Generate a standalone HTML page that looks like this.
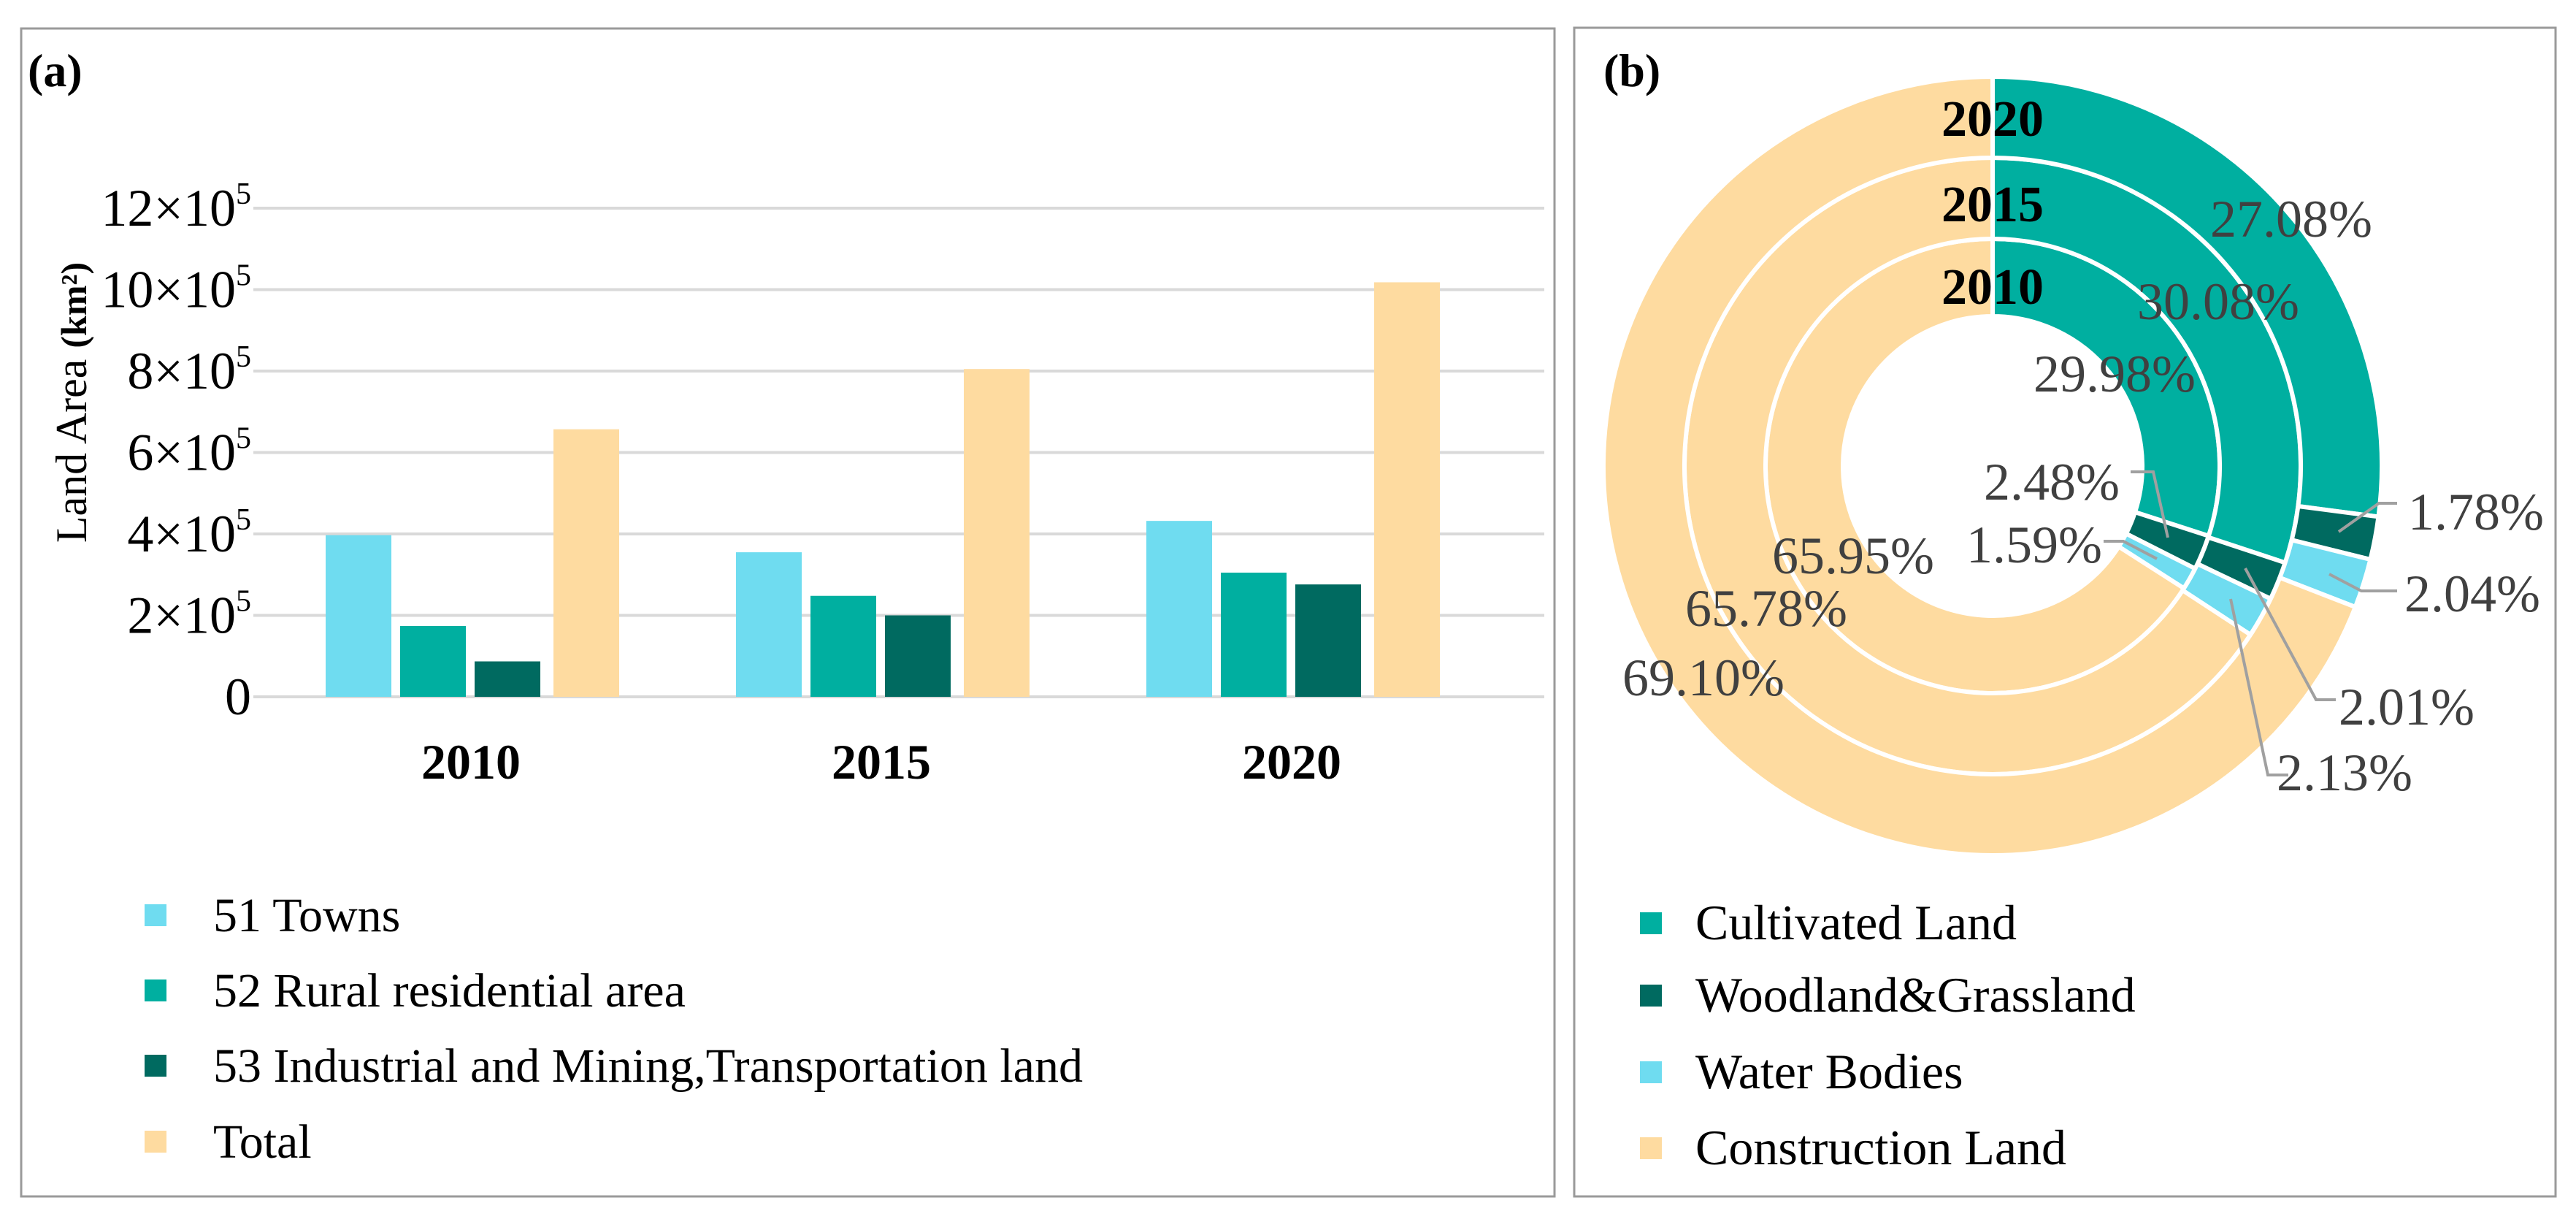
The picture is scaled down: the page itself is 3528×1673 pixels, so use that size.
<!DOCTYPE html>
<html><head><meta charset="utf-8"><style>
html,body{margin:0;padding:0;background:#fff;}
svg{display:block;font-family:"Liberation Serif","DejaVu Serif",serif;}
</style></head><body>
<svg id="c" width="3528" height="1673" viewBox="0 0 3528 1673" xmlns="http://www.w3.org/2000/svg">
<rect x="29" y="39" width="2100" height="1599" fill="#fff" stroke="#9a9a9a" stroke-width="3"/>
<rect x="2156" y="38" width="1344" height="1600" fill="#fff" stroke="#9a9a9a" stroke-width="3"/>
<text x="38" y="118" font-size="64" font-weight="bold">(a)</text>
<text x="2196" y="118" font-size="64" font-weight="bold">(b)</text>
<g id="grid"></g>
<g id="bars"></g>
<g id="ticks"></g>
<text transform="translate(118,551) rotate(-90)" text-anchor="middle" font-size="60">Land Area <tspan font-weight="bold" font-size="50">(km²)</tspan></text>
<g id="cats"></g>
<g id="legA"></g>
<g id="donut"></g>
<g id="legB"></g>
</svg>
<script>
const categories=["2010","2015","2020"];
const seriesNames=["51 Towns","52 Rural residential area","53 Industrial and Mining,Transportation land","Total"];
const towns=[3.97e5,3.55e5,4.32e5];
const rural=[1.74e5,2.48e5,3.05e5];
const industrial=[0.87e5,2.0e5,2.76e5];
const total=[6.57e5,8.05e5,10.18e5];
const yTicks=[0,2e5,4e5,6e5,8e5,10e5,12e5];
const yTickLabels=["0","2","4","6","8","10","12"];
const ringYears=["2010","2015","2020"];
const landNames=["Cultivated Land","Woodland&Grassland","Water Bodies","Construction Land"];
const share2010=[29.98,2.48,1.59,65.95];
const share2015=[30.08,2.01,2.13,65.78];
const share2020=[27.08,1.78,2.04,69.10];

const NS="http://www.w3.org/2000/svg";
const barColors=["#6fdcf0","#00afa0","#006a60","#fedba0"];
const pieColors=["#00afa0","#006a60","#6fdcf0","#fedba0"];
function mk(tag,attrs,parent){const e=document.createElementNS(NS,tag);for(const k in attrs)e.setAttribute(k,attrs[k]);parent.appendChild(e);return e;}
const X0=347,X1=2115,Y0=954,Y12=285;
function yS(v){return Y0-(v/12e5)*(Y0-Y12);}
const groupW=562, G0=645;
function gC(ci){return G0+groupW*ci;}
function xS(ci,si){return gC(ci)-199+si*102+(si==3?6:0);}
const grid=document.getElementById('grid'),ticks=document.getElementById('ticks');
yTicks.forEach((t,i)=>{
  const l=mk('line',{x1:X0,x2:X1,y1:yS(t),y2:yS(t),stroke:'#d9d9d9','stroke-width':4},grid);
  
  
  const tx=mk('text',{x:344,y:yS(t)+24,'text-anchor':'end','font-size':72},ticks);
  
  
  if(t===0){tx.textContent='0';}else{tx.textContent=yTickLabels[i]+'×10';const s=mk('tspan',{'font-size':42,dy:-30},tx);s.textContent='5';}
});
const bars=document.getElementById('bars');
const series=[towns,rural,industrial,total];
categories.forEach((c,ci)=>{
  series.forEach((arr,si)=>{
    const x=xS(ci,si),y=yS(arr[ci]);
    const r=mk('rect',{x:x,y:y,width:90,height:Y0-y,fill:barColors[si]},bars);
    
    
  });
  const t=mk('text',{x:gC(ci),y:1066,'text-anchor':'middle','font-size':68,'font-weight':'bold'},document.getElementById('cats'));
  
  
  t.textContent=c;
});
const legA=document.getElementById('legA');
const legAY=[1253,1356,1459,1563];
seriesNames.forEach((n,i)=>{
  const r=mk('rect',{x:198,y:legAY[i]-15,width:30,height:30,fill:barColors[i]},legA);
  
  
  const t=mk('text',{x:292,y:legAY[i]+22,'font-size':66},legA);
  
  
  t.textContent=n;
});
const CX=2729,CY=638;
const rings=[[205,311,share2010],[311,422,share2015],[422,533,share2020]];
const donut=document.getElementById('donut');
function pt(r,a){return [CX+r*Math.sin(a),CY-r*Math.cos(a)];}
rings.forEach((rg,ri)=>{
  const [ri0,ro,vals]=rg;let acc=0;const sum=vals.reduce((a,b)=>a+b,0);
  vals.forEach((v,k)=>{
    const a0=acc/sum*2*Math.PI,a1=(acc+v)/sum*2*Math.PI;acc+=v;
    const la=(a1-a0)>Math.PI?1:0;
    const p0=pt(ro,a0),p1=pt(ro,a1),p2=pt(ri0,a1),p3=pt(ri0,a0);
    const d=`M${p0[0]},${p0[1]} A${ro},${ro} 0 ${la} 1 ${p1[0]},${p1[1]} L${p2[0]},${p2[1]} A${ri0},${ri0} 0 ${la} 0 ${p3[0]},${p3[1]} Z`;
    const p=mk('path',{d:d,fill:pieColors[k],stroke:'#fff','stroke-width':6,'stroke-linejoin':'round'},donut);
    
    
  });
});
const yearY=[392,279,162];
ringYears.forEach((y,i)=>{
  const t=mk('text',{x:CX,y:yearY[i]+24,'text-anchor':'middle','font-size':70,'font-weight':'bold'},donut);
  
  
  t.textContent=y;
});
const labs=[[share2020[0],3138,299],[share2015[0],3038,412],[share2010[0],2896,511],[share2010[1],2810,659],[share2010[2],2786,745],[share2010[3],2538,760],[share2015[3],2419,832],[share2020[3],2333,927],[share2020[1],3391,700],[share2020[2],3386,812],[share2015[1],3296,967],[share2015[2],3211,1057]];
labs.forEach(l=>{
  const t=mk('text',{x:l[1],y:l[2]+25,'text-anchor':'middle','font-size':72,fill:'#404040'},donut);
  
  
  t.textContent=l[0].toFixed(2)+'%';
});
const leaders=["2918,646 2949,646 2969,736","2881,741 2908,741 2954,765","3283,689 3258,689 3203,728","3283,809 3234,809 3190,786","3199,958 3172,958 3075,778","3134,1061 3106,1061 3055,820"];
leaders.forEach(s=>{
  const pl=mk('polyline',{points:s,fill:'none',stroke:'#a0a0a0','stroke-width':4},donut);
  
  
});
const legB=document.getElementById('legB');
const legBY=[1264,1363,1468,1572];
landNames.forEach((n,i)=>{
  const r=mk('rect',{x:2246,y:legBY[i]-15,width:30,height:30,fill:pieColors[i]},legB);
  
  
  const t=mk('text',{x:2322,y:legBY[i]+22,'font-size':68},legB);
  
  
  t.textContent=n;
});
</script>
</body></html>
